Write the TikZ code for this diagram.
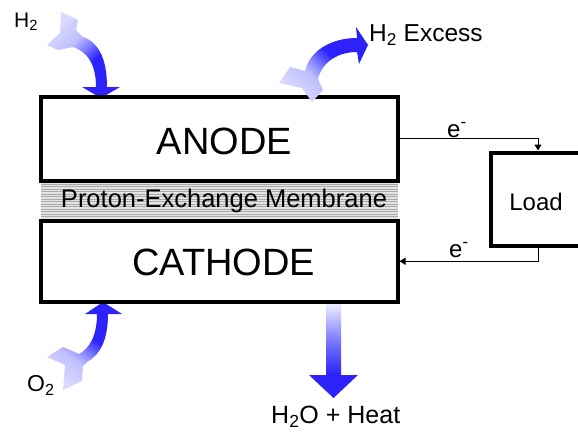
\documentclass[tikz,border=0pt]{standalone}
\usepackage{fontspec}
\setmainfont{Liberation Sans}
\usetikzlibrary{arrows.meta}

\definecolor{ablue}{RGB}{45,35,250}
\definecolor{alight}{RGB}{218,218,255}
\definecolor{amid}{RGB}{125,125,255}
\definecolor{amidb}{RGB}{190,190,255}
\definecolor{awhite}{RGB}{250,250,255}
\definecolor{memfill}{RGB}{228,228,228}
\definecolor{memline}{RGB}{170,170,170}

\pgfdeclarehorizontalshading{curvearrow}{100bp}{color(0bp)=(alight); color(25bp)=(alight); color(40bp)=(amidb); color(48bp)=(amid); color(57bp)=(ablue); color(100bp)=(ablue)}
\pgfdeclareverticalshading{downarrow}{100bp}{color(0bp)=(ablue); color(37bp)=(ablue); color(55bp)=(amid); color(75bp)=(awhite); color(100bp)=(awhite)}

\begin{document}
\begin{tikzpicture}[x=1pt,y=-1pt,
  cellbox/.style={draw, line width=4pt, inner sep=0pt, fill=white},
  bigtxt/.style={font=\fontsize{38}{44}\selectfont},
  midtxt/.style={font=\fontsize{24}{28}\selectfont},
  wire/.style={line width=1pt, -{Triangle[width=7pt,length=6pt]}},
  txt/.style={inner sep=0pt, anchor=base west}]
\useasboundingbox (0,0) rectangle (578,434);
\clip (0,0) rectangle (578,434);

% membrane
\fill[memfill] (41,180.5) rectangle (397.5,220.5);
\foreach \yy in {181.5,184,...,220} \draw[memline, line width=0.5pt] (41,\yy) -- (397.5,\yy);
\node[inner sep=0pt, anchor=base, font=\fontsize{25.5}{30}\selectfont] (membrane) at (224,207) {Proton-Exchange Membrane};

% input/output block arrows (behind the boxes)
\shade[shading=curvearrow, shading angle=-45]
  (73,47) .. controls (88,52) and (96,65) .. (96,87) -- (82,87) -- (101,98) -- (120,87) -- (107,87)
  .. controls (107,58) and (98,42) .. (83,37) -- (76,30) -- (78,20) -- (61,12) -- (60,33) -- (47,45) -- (58,50) -- cycle;
\shade[shading=curvearrow, shading angle=54]
  (97,314) -- (85,314) -- (103,302) -- (122,314) -- (108,314)
  .. controls (108,340) and (100,355) .. (87,362) -- (83,366) -- (82,381) -- (63,390) -- (65,365) -- (47,357) -- (63,347) -- (79,354)
  .. controls (90,348) and (97,335) .. (97,314) -- cycle;
\shade[shading=downarrow] (326,300) -- (341,300) -- (341,375) -- (358,375) -- (333.5,398) -- (309,375) -- (326,375) -- cycle;

% boxes
\node[cellbox, bigtxt, minimum width=356.5pt, minimum height=83.5pt, text height=31pt, text depth=0pt, fill=none] (anode) at (219.25,138.75) {\hspace*{10pt}ANODE};
\node[cellbox, bigtxt, minimum width=356.5pt, minimum height=81.5pt, text height=27.5pt, text depth=0pt, fill=none] (cathode) at (219.25,261.25) {\hspace*{9pt}CATHODE};
\node[cellbox, midtxt, minimum width=94pt, minimum height=93pt, text height=22pt, text depth=0pt] (load) at (538,199) {\hspace*{-4pt}Load};

% excess arrow (over the anode top edge)
\shade[shading=curvearrow, shading angle=45]
  (318,79) .. controls (322,62) and (338,52) .. (357,52) -- (359,64) -- (368,45) -- (356,27) -- (357,38)
  .. controls (332,38) and (310,50) .. (305,71) -- (290,67) -- (279,83) -- (302,88) -- (312,102) -- (323,90) -- cycle;

% electron wires
\draw[wire] (anode.east) -| (load.north);
\draw[wire] (load.south) |- (cathode.east);
\node[txt, midtxt] (eup) at (447,137) {e\textsuperscript{-}};
\node[txt, midtxt] (edown) at (449,257) {e\textsuperscript{-}};

% labels
\node[txt, font=\fontsize{21}{25}\selectfont] (h2in) at (14,27.5) {H\textsubscript{2}};
\node[txt, font=\fontsize{24.5}{28}\selectfont] (h2ex) at (369,41.7) {H\textsubscript{2} Excess};
\node[txt, font=\fontsize{23}{27}\selectfont] (o2) at (27,391.7) {O\textsubscript{2}};
\node[txt, font=\fontsize{25}{29}\selectfont] (water) at (271,423.3) {H\textsubscript{2}O + Heat};
\end{tikzpicture}
\end{document}
